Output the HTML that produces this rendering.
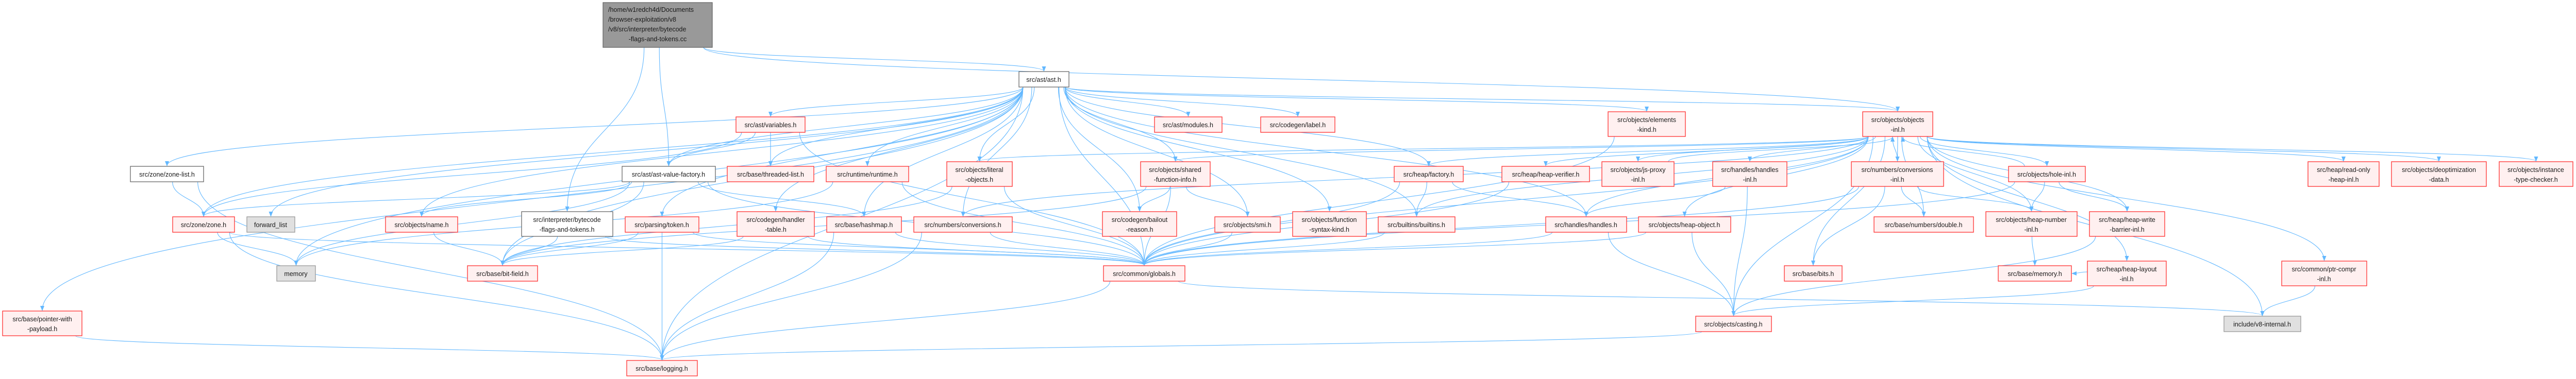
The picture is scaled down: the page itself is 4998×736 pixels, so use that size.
<!DOCTYPE html>
<html><head><meta charset="utf-8">
<style>
html,body{margin:0;padding:0;background:#fff;}
svg{display:block;}
text{font-family:"Liberation Sans",sans-serif;font-size:12.5px;fill:#1a1a1a;}
.r{fill:#fff0f0;stroke:#ff3030;stroke-width:1.3;}
.w{fill:#fff;stroke:#666;stroke-width:1.3;}
.g{fill:#e0e0e0;stroke:#999;stroke-width:1.3;}
.k{fill:#999;stroke:#666;stroke-width:1.3;}
</style></head><body>
<svg id="s" width="4998" height="736" viewBox="0 0 4998 736" xmlns="http://www.w3.org/2000/svg">
<defs><marker id="a" markerWidth="10" markerHeight="8" refX="9" refY="4" orient="auto" markerUnits="userSpaceOnUse"><path d="M0,0 L10,4 L0,8 z" fill="#63b8ff"/></marker></defs>
<g id="edges" fill="none" stroke="#63b8ff" stroke-width="1.1"></g>
<g id="nodes">
<rect class="k" x="1170" y="5" width="212" height="87"/>
<text x="1180" y="23">/home/w1redch4d/Documents</text>
<text x="1180" y="42">/browser-exploitation/v8</text>
<text x="1180" y="61">/v8/src/interpreter/bytecode</text>
<text x="1276" y="80" text-anchor="middle">-flags-and-tokens.cc</text>
</g>
</svg>
<div id="src" style="display:none"></div>
<script>
var N={
zonelist:[253,323,142,30,'w',['src/zone/zone-list.h']],
zone:[335,421,120,30,'r',['src/zone/zone.h']],
fwd:[479,421,93,30,'g',['forward_list']],
memory:[537,516,75,30,'g',['memory']],
pwp:[5,604,154,48,'r',['src/base/pointer-with','-payload.h']],
name:[748,421,140,30,'r',['src/objects/name.h']],
variables:[1428,227,134,30,'r',['src/ast/variables.h']],
avf:[1207,323,181,30,'w',['src/ast/ast-value-factory.h']],
threaded:[1411,323,168,30,'r',['src/base/threaded-list.h']],
runtime:[1603,323,160,30,'r',['src/runtime/runtime.h']],
bft:[1012,411,177,48,'w',['src/interpreter/bytecode','-flags-and-tokens.h']],
token:[1213,421,143,30,'r',['src/parsing/token.h']],
handler:[1430,411,150,48,'r',['src/codegen/handler','-table.h']],
hashmap:[1604,421,145,30,'r',['src/base/hashmap.h']],
bitfield:[907,516,136,30,'r',['src/base/bit-field.h']],
logging:[1216,700,137,30,'r',['src/base/logging.h']],
ast:[1977,139,97,30,'w',['src/ast/ast.h']],
modules:[2240,227,131,30,'r',['src/ast/modules.h']],
label:[2446,227,144,30,'r',['src/codegen/label.h']],
literal:[1837,314,127,48,'r',['src/objects/literal','-objects.h']],
sfi:[2213,314,135,48,'r',['src/objects/shared','-function-info.h']],
conversions:[1773,421,191,30,'r',['src/numbers/conversions.h']],
bailout:[2139,411,144,48,'r',['src/codegen/bailout','-reason.h']],
smi:[2357,421,127,30,'r',['src/objects/smi.h']],
globals:[2141,516,158,30,'r',['src/common/globals.h']],
elements:[3120,217,150,48,'r',['src/objects/elements','-kind.h']],
fsk:[2508,411,143,48,'r',['src/objects/function','-syntax-kind.h']],
factory:[2705,323,134,30,'r',['src/heap/factory.h']],
verifier:[2914,323,170,30,'r',['src/heap/heap-verifier.h']],
jsproxy:[3108,314,140,48,'r',['src/objects/js-proxy','-inl.h']],
builtins:[2674,421,149,30,'r',['src/builtins/builtins.h']],
handles:[2999,421,157,30,'r',['src/handles/handles.h']],
heapobject:[3179,421,179,30,'r',['src/objects/heap-object.h']],
objinl:[3614,217,136,48,'r',['src/objects/objects','-inl.h']],
handlesinl:[3323,314,144,48,'r',['src/handles/handles','-inl.h']],
convinl:[3592,314,179,48,'r',['src/numbers/conversions','-inl.h']],
holeinl:[3897,323,149,30,'r',['src/objects/hole-inl.h']],
dbl:[3636,421,193,30,'r',['src/base/numbers/double.h']],
heapnum:[3853,411,177,48,'r',['src/objects/heap-number','-inl.h']],
wb:[4054,411,146,48,'r',['src/heap/heap-write','-barrier-inl.h']],
bits:[3462,516,112,30,'r',['src/base/bits.h']],
bmemory:[3877,516,142,30,'r',['src/base/memory.h']],
layout:[4050,507,153,48,'r',['src/heap/heap-layout','-inl.h']],
casting:[3290,614,147,30,'r',['src/objects/casting.h']],
rohi:[4478,314,138,48,'r',['src/heap/read-only','-heap-inl.h']],
deopt:[4640,314,184,48,'r',['src/objects/deoptimization','-data.h']],
itc:[4849,314,143,48,'r',['src/objects/instance','-type-checker.h']],
ptrcompr:[4427,507,165,48,'r',['src/common/ptr-compr','-inl.h']],
v8int:[4315,614,149,30,'g',['include/v8-internal.h']]
};
N.root=[1170,5,212,87,'k',[]];
var E=[
['root','avf'],['root','bft'],['root','ast'],['root','objinl'],
['ast','zonelist'],['ast','pwp'],['ast','zone'],['ast','fwd'],['ast','memory'],['ast','bitfield'],['ast','logging'],
['ast','avf'],['ast','variables'],['ast','threaded'],['ast','runtime'],['ast','literal'],['ast','sfi'],['ast','modules'],
['ast','label'],['ast','smi'],['ast','bailout'],['ast','globals'],['ast','fsk'],['ast','factory'],['ast','elements'],
['ast','builtins'],['ast','handles'],['ast','conversions'],['ast','hashmap'],['ast','token'],['ast','handler'],['ast','name'],['ast','objinl'],
['variables','avf'],['variables','threaded'],['variables','globals'],['variables','zone'],
['avf','zone'],['avf','name'],['avf','bitfield'],['avf','hashmap'],['avf','globals'],['avf','memory'],
['zonelist','zone'],['zonelist','logging'],['zone','memory'],['zone','logging'],['zone','globals'],
['name','bitfield'],['bft','bitfield'],['bft','globals'],['token','bitfield'],['token','logging'],['token','globals'],
['handler','bitfield'],['handler','globals'],['hashmap','logging'],['hashmap','globals'],['runtime','globals'],['runtime','memory'],
['literal','bitfield'],['literal','globals'],['sfi','bailout'],['sfi','globals'],['sfi','smi'],['sfi','bitfield'],
['conversions','globals'],['conversions','logging'],['smi','globals'],['factory','builtins'],['factory','handles'],['factory','globals'],
['verifier','globals'],['builtins','globals'],['handles','globals'],['handles','casting'],['heapobject','globals'],['heapobject','casting'],
['objinl','literal'],['objinl','sfi'],['objinl','conversions'],['objinl','factory'],['objinl','verifier'],['objinl','jsproxy'],
['objinl','builtins'],['objinl','handles'],['objinl','heapobject'],['objinl','handlesinl'],['objinl','convinl'],['objinl','dbl'],
['objinl','heapnum'],['objinl','holeinl'],['objinl','wb'],['objinl','layout'],['objinl','bits'],['objinl','casting'],
['objinl','rohi'],['objinl','deopt'],['objinl','itc'],['objinl','ptrcompr'],['objinl','v8int'],['objinl','globals'],
['convinl','objinl'],['convinl','dbl'],['convinl','heapnum'],['convinl','bits'],['convinl','globals'],
['holeinl','objinl'],['holeinl','heapnum'],['holeinl','wb'],['holeinl','globals'],['handlesinl','handles'],['handlesinl','casting'],
['heapnum','bmemory'],['wb','casting'],['layout','casting'],['layout','bmemory'],['ptrcompr','v8int'],
['globals','logging'],['globals','v8int'],['pwp','logging'],['casting','logging'],['elements','globals'],['jsproxy','objinl']
];
var g=document.getElementById('edges'),ns='http://www.w3.org/2000/svg',out='';
E.forEach(function(e,i){
 var s=N[e[0]],t=N[e[1]];if(!s||!t)return;
 var scx=s[0]+s[2]/2,tcx=t[0]+t[2]/2,scy=s[1]+s[3]/2,tcy=t[1]+t[3]/2,d;
 var dx=tcx-scx,off=Math.max(-s[2]*0.42,Math.min(s[2]*0.42,dx*0.15));
 if(tcy-scy>25){var x1=scx+off,y1=s[1]+s[3],x2=tcx,y2=t[1]-1,m=(y2-y1)*0.5;
  d='M'+x1+','+y1+' C'+x1+','+(y1+m)+' '+x2+','+(y2-m)+' '+x2+','+y2;}
 else if(scy-tcy>25){var x1=scx+off,y1=s[1],x2=tcx+ (dx>0?-10:10),y2=t[1]+t[3]+1,m=(y1-y2)*0.5;
  d='M'+x1+','+y1+' C'+x1+','+(y1-m)+' '+x2+','+(y2+m)+' '+x2+','+y2;}
 else {var l=tcx>scx,x1=l?s[0]+s[2]:s[0],x2=l?t[0]-1:t[0]+t[2]+1,y1=scy+(i%5-2)*3,y2=tcy;
  var mx=(x1+x2)/2;d='M'+x1+','+y1+' C'+mx+','+y1+' '+mx+','+y2+' '+x2+','+y2;}
 out+='<path d="'+d+'" marker-end="url(#a)"/>';
});
g.innerHTML=out;
</script>
<svg width="0" height="0" style="position:absolute;left:0;top:0"></svg>
<script>
// nodes are drawn statically below via overlay SVG
</script>
<svg width="4998" height="736" style="position:absolute;left:0;top:0" xmlns="http://www.w3.org/2000/svg">
<g>
<rect class="w" x="253" y="323" width="142" height="30"/><text x="324" y="343" text-anchor="middle">src/zone/zone-list.h</text>
<rect class="r" x="335" y="421" width="120" height="30"/><text x="395" y="441" text-anchor="middle">src/zone/zone.h</text>
<rect class="g" x="479" y="421" width="93" height="30"/><text x="525" y="441" text-anchor="middle">forward_list</text>
<rect class="g" x="537" y="516" width="75" height="30"/><text x="574" y="536" text-anchor="middle">memory</text>
<rect class="r" x="5" y="604" width="154" height="48"/><text x="82" y="624" text-anchor="middle">src/base/pointer-with</text><text x="82" y="643" text-anchor="middle">-payload.h</text>
<rect class="r" x="748" y="421" width="140" height="30"/><text x="818" y="441" text-anchor="middle">src/objects/name.h</text>
<rect class="r" x="1428" y="227" width="134" height="30"/><text x="1495" y="247" text-anchor="middle">src/ast/variables.h</text>
<rect class="w" x="1207" y="323" width="181" height="30"/><text x="1297" y="343" text-anchor="middle">src/ast/ast-value-factory.h</text>
<rect class="r" x="1411" y="323" width="168" height="30"/><text x="1495" y="343" text-anchor="middle">src/base/threaded-list.h</text>
<rect class="r" x="1603" y="323" width="160" height="30"/><text x="1683" y="343" text-anchor="middle">src/runtime/runtime.h</text>
<rect class="w" x="1012" y="411" width="177" height="48"/><text x="1100" y="431" text-anchor="middle">src/interpreter/bytecode</text><text x="1100" y="450" text-anchor="middle">-flags-and-tokens.h</text>
<rect class="r" x="1213" y="421" width="143" height="30"/><text x="1284" y="441" text-anchor="middle">src/parsing/token.h</text>
<rect class="r" x="1430" y="411" width="150" height="48"/><text x="1505" y="431" text-anchor="middle">src/codegen/handler</text><text x="1505" y="450" text-anchor="middle">-table.h</text>
<rect class="r" x="1604" y="421" width="145" height="30"/><text x="1676" y="441" text-anchor="middle">src/base/hashmap.h</text>
<rect class="r" x="907" y="516" width="136" height="30"/><text x="975" y="536" text-anchor="middle">src/base/bit-field.h</text>
<rect class="r" x="1216" y="700" width="137" height="30"/><text x="1284" y="720" text-anchor="middle">src/base/logging.h</text>
<rect class="w" x="1977" y="139" width="97" height="30"/><text x="2025" y="159" text-anchor="middle">src/ast/ast.h</text>
<rect class="r" x="2240" y="227" width="131" height="30"/><text x="2305" y="247" text-anchor="middle">src/ast/modules.h</text>
<rect class="r" x="2446" y="227" width="144" height="30"/><text x="2518" y="247" text-anchor="middle">src/codegen/label.h</text>
<rect class="r" x="1837" y="314" width="127" height="48"/><text x="1900" y="334" text-anchor="middle">src/objects/literal</text><text x="1900" y="353" text-anchor="middle">-objects.h</text>
<rect class="r" x="2213" y="314" width="135" height="48"/><text x="2280" y="334" text-anchor="middle">src/objects/shared</text><text x="2280" y="353" text-anchor="middle">-function-info.h</text>
<rect class="r" x="1773" y="421" width="191" height="30"/><text x="1868" y="441" text-anchor="middle">src/numbers/conversions.h</text>
<rect class="r" x="2139" y="411" width="144" height="48"/><text x="2211" y="431" text-anchor="middle">src/codegen/bailout</text><text x="2211" y="450" text-anchor="middle">-reason.h</text>
<rect class="r" x="2357" y="421" width="127" height="30"/><text x="2420" y="441" text-anchor="middle">src/objects/smi.h</text>
<rect class="r" x="2141" y="516" width="158" height="30"/><text x="2220" y="536" text-anchor="middle">src/common/globals.h</text>
<rect class="r" x="3120" y="217" width="150" height="48"/><text x="3195" y="237" text-anchor="middle">src/objects/elements</text><text x="3195" y="256" text-anchor="middle">-kind.h</text>
<rect class="r" x="2508" y="411" width="143" height="48"/><text x="2579" y="431" text-anchor="middle">src/objects/function</text><text x="2579" y="450" text-anchor="middle">-syntax-kind.h</text>
<rect class="r" x="2705" y="323" width="134" height="30"/><text x="2772" y="343" text-anchor="middle">src/heap/factory.h</text>
<rect class="r" x="2914" y="323" width="170" height="30"/><text x="2999" y="343" text-anchor="middle">src/heap/heap-verifier.h</text>
<rect class="r" x="3108" y="314" width="140" height="48"/><text x="3178" y="334" text-anchor="middle">src/objects/js-proxy</text><text x="3178" y="353" text-anchor="middle">-inl.h</text>
<rect class="r" x="2674" y="421" width="149" height="30"/><text x="2748" y="441" text-anchor="middle">src/builtins/builtins.h</text>
<rect class="r" x="2999" y="421" width="157" height="30"/><text x="3077" y="441" text-anchor="middle">src/handles/handles.h</text>
<rect class="r" x="3179" y="421" width="179" height="30"/><text x="3268" y="441" text-anchor="middle">src/objects/heap-object.h</text>
<rect class="r" x="3614" y="217" width="136" height="48"/><text x="3682" y="237" text-anchor="middle">src/objects/objects</text><text x="3682" y="256" text-anchor="middle">-inl.h</text>
<rect class="r" x="3323" y="314" width="144" height="48"/><text x="3395" y="334" text-anchor="middle">src/handles/handles</text><text x="3395" y="353" text-anchor="middle">-inl.h</text>
<rect class="r" x="3592" y="314" width="179" height="48"/><text x="3681" y="334" text-anchor="middle">src/numbers/conversions</text><text x="3681" y="353" text-anchor="middle">-inl.h</text>
<rect class="r" x="3897" y="323" width="149" height="30"/><text x="3971" y="343" text-anchor="middle">src/objects/hole-inl.h</text>
<rect class="r" x="3636" y="421" width="193" height="30"/><text x="3732" y="441" text-anchor="middle">src/base/numbers/double.h</text>
<rect class="r" x="3853" y="411" width="177" height="48"/><text x="3941" y="431" text-anchor="middle">src/objects/heap-number</text><text x="3941" y="450" text-anchor="middle">-inl.h</text>
<rect class="r" x="4054" y="411" width="146" height="48"/><text x="4127" y="431" text-anchor="middle">src/heap/heap-write</text><text x="4127" y="450" text-anchor="middle">-barrier-inl.h</text>
<rect class="r" x="3462" y="516" width="112" height="30"/><text x="3518" y="536" text-anchor="middle">src/base/bits.h</text>
<rect class="r" x="3877" y="516" width="142" height="30"/><text x="3948" y="536" text-anchor="middle">src/base/memory.h</text>
<rect class="r" x="4050" y="507" width="153" height="48"/><text x="4126" y="527" text-anchor="middle">src/heap/heap-layout</text><text x="4126" y="546" text-anchor="middle">-inl.h</text>
<rect class="r" x="3290" y="614" width="147" height="30"/><text x="3363" y="634" text-anchor="middle">src/objects/casting.h</text>
<rect class="r" x="4478" y="314" width="138" height="48"/><text x="4547" y="334" text-anchor="middle">src/heap/read-only</text><text x="4547" y="353" text-anchor="middle">-heap-inl.h</text>
<rect class="r" x="4640" y="314" width="184" height="48"/><text x="4732" y="334" text-anchor="middle">src/objects/deoptimization</text><text x="4732" y="353" text-anchor="middle">-data.h</text>
<rect class="r" x="4849" y="314" width="143" height="48"/><text x="4920" y="334" text-anchor="middle">src/objects/instance</text><text x="4920" y="353" text-anchor="middle">-type-checker.h</text>
<rect class="r" x="4427" y="507" width="165" height="48"/><text x="4509" y="527" text-anchor="middle">src/common/ptr-compr</text><text x="4509" y="546" text-anchor="middle">-inl.h</text>
<rect class="g" x="4315" y="614" width="149" height="30"/><text x="4389" y="634" text-anchor="middle">include/v8-internal.h</text>
</g>
</svg>
</body></html>
